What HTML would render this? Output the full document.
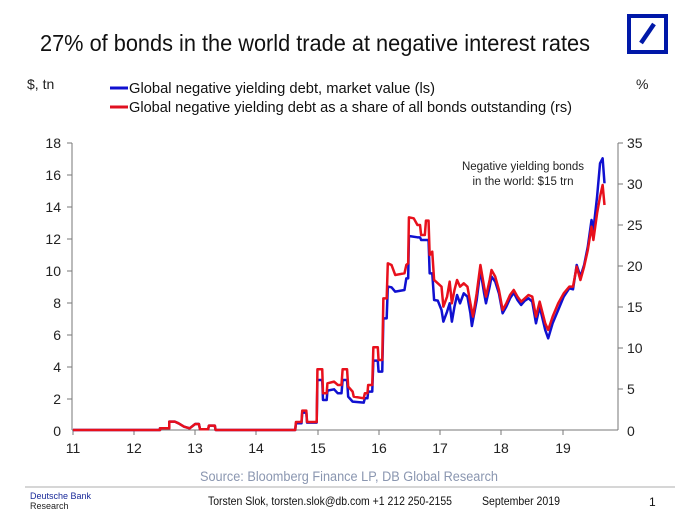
<!DOCTYPE html>
<html><head><meta charset="utf-8"><style>
body{margin:0;background:#fff;}
svg{display:block;font-family:"Liberation Sans",Arial,sans-serif;}
</style></head><body>
<svg width="698" height="520" viewBox="0 0 698 520" xmlns="http://www.w3.org/2000/svg">
<rect width="698" height="520" fill="#fff"/>
<text x="40" y="51" font-size="23" fill="#111" textLength="550" lengthAdjust="spacingAndGlyphs">27% of bonds in the world trade at negative interest rates</text>
<rect x="629" y="16" width="37" height="36" fill="none" stroke="#0018a8" stroke-width="4"/>
<line x1="641" y1="43" x2="654" y2="24" stroke="#0018a8" stroke-width="4.5"/>
<text x="27" y="89" font-size="14" fill="#222">$, tn</text>
<text x="636" y="89" font-size="14" fill="#222">%</text>
<line x1="110" y1="88" x2="128" y2="88" stroke="#1010d0" stroke-width="3"/>
<text x="129" y="93" font-size="14.5" fill="#111" textLength="306" lengthAdjust="spacingAndGlyphs">Global negative yielding debt, market value (ls)</text>
<line x1="110" y1="107" x2="128" y2="107" stroke="#e01020" stroke-width="3"/>
<text x="129" y="112" font-size="14.5" fill="#111" textLength="443" lengthAdjust="spacingAndGlyphs">Global negative yielding debt as a share of all bonds outstanding (rs)</text>

<g stroke="#777" stroke-width="1">
<line x1="72" y1="143" x2="72" y2="430"/>
<line x1="618" y1="143" x2="618" y2="430"/>
<line x1="72" y1="430" x2="618" y2="430"/>
</g>
<g font-size="14" fill="#222" text-anchor="end">
<text x="61" y="148">18</text><text x="61" y="180">16</text><text x="61" y="212">14</text><text x="61" y="244">12</text><text x="61" y="276">10</text><text x="61" y="308">8</text><text x="61" y="340">6</text><text x="61" y="372">4</text><text x="61" y="404">2</text><text x="61" y="436">0</text>
</g>
<g stroke="#777">
<line x1="67" y1="143" x2="72" y2="143"/><line x1="67" y1="175" x2="72" y2="175"/><line x1="67" y1="207" x2="72" y2="207"/><line x1="67" y1="239" x2="72" y2="239"/><line x1="67" y1="271" x2="72" y2="271"/><line x1="67" y1="303" x2="72" y2="303"/><line x1="67" y1="335" x2="72" y2="335"/><line x1="67" y1="367" x2="72" y2="367"/><line x1="67" y1="399" x2="72" y2="399"/>
<line x1="618" y1="143" x2="623" y2="143"/><line x1="618" y1="184" x2="623" y2="184"/><line x1="618" y1="225" x2="623" y2="225"/><line x1="618" y1="266" x2="623" y2="266"/><line x1="618" y1="307" x2="623" y2="307"/><line x1="618" y1="348" x2="623" y2="348"/><line x1="618" y1="389" x2="623" y2="389"/>
<line x1="73" y1="430" x2="73" y2="435"/><line x1="134" y1="430" x2="134" y2="435"/><line x1="195" y1="430" x2="195" y2="435"/><line x1="256" y1="430" x2="256" y2="435"/><line x1="318" y1="430" x2="318" y2="435"/><line x1="379" y1="430" x2="379" y2="435"/><line x1="440" y1="430" x2="440" y2="435"/><line x1="501" y1="430" x2="501" y2="435"/><line x1="563" y1="430" x2="563" y2="435"/>
</g>
<g font-size="14" fill="#222">
<text x="627" y="148">35</text><text x="627" y="189">30</text><text x="627" y="230">25</text><text x="627" y="271">20</text><text x="627" y="312">15</text><text x="627" y="353">10</text><text x="627" y="394">5</text><text x="627" y="436">0</text>
</g>
<g font-size="14" fill="#222" text-anchor="middle">
<text x="73" y="453">11</text><text x="134" y="453">12</text><text x="195" y="453">13</text><text x="256" y="453">14</text><text x="318" y="453">15</text><text x="379" y="453">16</text><text x="440" y="453">17</text><text x="501" y="453">18</text><text x="563" y="453">19</text>
</g>
<g font-size="11.5" fill="#222" text-anchor="middle">
<text x="523" y="170">Negative yielding bonds</text>
<text x="523" y="185">in the world: $15 trn</text>
</g>

<g transform="translate(60,130) scale(0.3704,0.3333)" fill="none" stroke-linejoin="round">
<polyline vector-effect="non-scaling-stroke" stroke="#1010d0" stroke-width="2.5" points="35,900 270,900 270,895 295,895 295,875 310,875 320,880 335,890 350,895 365,882 375,882 378,898 400,898 402,887 418,887 420,900 635,900 637,880 652,880 654,848 665,848 667,878 693,878 695,750 708,750 710,810 720,810 722,782 740,778 750,790 760,790 763,750 775,750 778,800 790,815 820,818 823,805 830,805 832,785 843,785 846,692 858,692 860,725 870,725 873,565 882,565 885,470 895,472 905,485 930,480 935,445 940,445 942,318 965,322 972,322 975,330 985,330 988,330 995,330 998,430 1005,430 1010,510 1020,512 1030,540 1035,575 1045,545 1052,520 1058,575 1065,530 1072,495 1080,520 1090,490 1100,500 1108,550 1112,588 1125,510 1135,420 1145,490 1150,520 1160,470 1165,440 1175,455 1185,490 1195,550 1205,530 1215,505 1225,488 1235,510 1245,525 1255,512 1265,505 1275,515 1285,580 1295,530 1310,600 1318,625 1330,580 1345,540 1360,500 1375,475 1385,478 1395,405 1405,440 1415,405 1425,350 1435,270 1440,300 1450,200 1458,100 1465,85 1470,160"/>
<polyline vector-effect="non-scaling-stroke" stroke="#e8101c" stroke-width="2.5" points="35,900 270,900 270,895 295,895 295,875 310,875 320,880 335,890 350,895 365,882 375,882 378,898 400,898 402,887 418,887 420,900 635,900 637,876 652,876 654,842 665,842 667,876 693,876 695,718 708,718 710,790 720,790 722,760 740,755 750,765 760,765 763,718 775,718 778,770 790,785 793,800 820,805 823,790 830,790 832,765 843,765 846,652 858,652 860,690 870,690 873,505 882,505 885,400 895,405 905,435 930,430 935,405 940,400 942,262 955,265 965,285 972,285 975,315 985,315 988,272 995,272 998,375 1005,365 1010,450 1020,460 1030,470 1035,530 1045,500 1052,455 1058,520 1065,480 1072,450 1080,470 1090,460 1100,470 1108,520 1115,560 1125,490 1135,405 1145,470 1150,500 1160,450 1165,420 1175,440 1185,480 1195,540 1205,520 1215,495 1225,480 1235,500 1245,515 1255,505 1265,495 1275,500 1285,560 1295,515 1310,580 1318,600 1330,560 1345,520 1360,490 1375,470 1385,470 1395,410 1405,450 1415,410 1425,360 1435,290 1440,330 1450,250 1458,200 1465,165 1470,225"/>
</g>

<text x="200" y="481" font-size="13.5" fill="#8a96b0" textLength="298" lengthAdjust="spacingAndGlyphs">Source: Bloomberg Finance LP, DB Global Research</text>
<line x1="25" y1="487" x2="675" y2="487" stroke="#c8c8c8" stroke-width="1.5"/>
<text x="30" y="499" font-size="9" fill="#1a2a9a">Deutsche Bank</text>
<text x="30" y="509" font-size="9" fill="#222">Research</text>
<text x="208" y="505" font-size="12" fill="#111" textLength="244" lengthAdjust="spacingAndGlyphs">Torsten Slok, torsten.slok@db.com  +1 212 250-2155</text>
<text x="482" y="505" font-size="12" fill="#111" textLength="78" lengthAdjust="spacingAndGlyphs">September 2019</text>
<text x="649" y="506" font-size="12" fill="#111">1</text>
</svg>
</body></html>
